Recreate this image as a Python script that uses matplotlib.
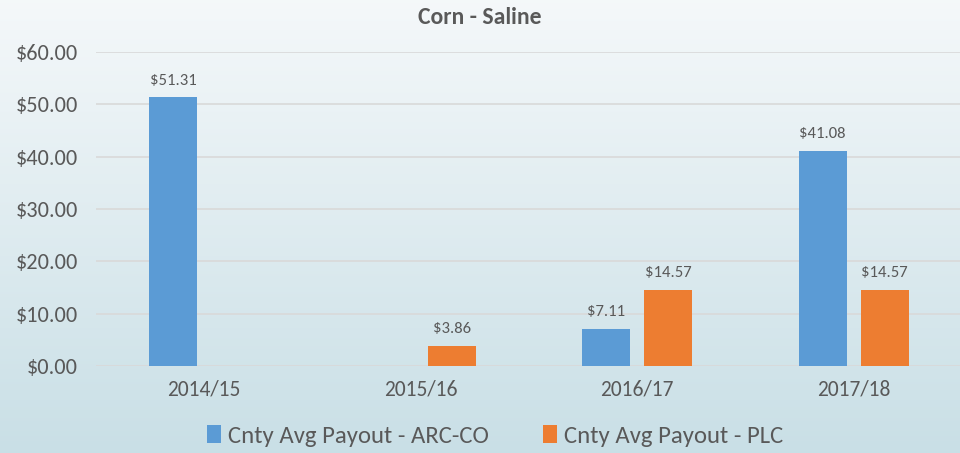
import matplotlib
matplotlib.use("Agg")
import matplotlib.pyplot as plt
import numpy as np
from matplotlib import font_manager

names = {f.name for f in font_manager.fontManager.ttflist}
fam = None
for cand in ["Carlito", "Liberation Sans Narrow", "Lato", "Open Sans", "DejaVu Sans"]:
    if cand in names:
        fam = cand
        break
plt.rcParams['font.family'] = [fam, 'DejaVu Sans']

categories = ["2014/15", "2015/16", "2016/17", "2017/18"]
arc_co = [51.31, 0.0, 7.11, 41.08]
plc = [0.0, 3.86, 14.57, 14.57]
series_names = ["Cnty Avg Payout - ARC-CO", "Cnty Avg Payout - PLC"]
title = "Corn - Saline"
yticks = [0, 10, 20, 30, 40, 50, 60]

blue = "#5B9BD5"
orange = "#ED7D31"
txt = "#595959"

fig = plt.figure(figsize=(9.6, 4.53), dpi=100)

# gradient background
bg = fig.add_axes([0, 0, 1, 1], zorder=-10)
grad = np.linspace(0, 1, 256).reshape(-1, 1)
top = np.array([0.960, 0.973, 0.980])
bot = np.array([0.788, 0.875, 0.902])
img = top[None, None, :] * (1 - grad[:, :, None]) + bot[None, None, :] * grad[:, :, None]
bg.imshow(img, aspect='auto', extent=[0, 1, 0, 1], origin='upper')
bg.axis('off')

ax = fig.add_axes([0.1, 1 - 366 / 453, 0.902, (366 - 52) / 453])
ax.set_facecolor('none')
x = np.arange(len(categories))
w = 0.222
off = 0.143
b1 = ax.bar(x - off, arc_co, w, color=blue, label=series_names[0], zorder=3)
b2 = ax.bar(x + off, plc, w, color=orange, label=series_names[1], zorder=3)

for bars, vals in ((b1, arc_co), (b2, plc)):
    for r, v in zip(bars, vals):
        if v > 0:
            ax.annotate(f"${v:.2f}", (r.get_x() + r.get_width() / 2, v),
                        xytext=(0, 7), textcoords='offset points',
                        ha='center', va='bottom', fontsize=12, color=txt)

ax.set_xlim(-0.5, 3.5)
ax.set_ylim(0, 60)
ax.set_yticks(yticks)
ax.set_yticklabels([f"${v:.2f}" for v in yticks])
ax.set_xticks(x)
ax.set_xticklabels(categories)
ax.tick_params(axis='y', length=0, labelsize=16, labelcolor=txt, pad=13)
ax.tick_params(axis='x', length=0, labelsize=15.5, labelcolor=txt, pad=10)
ax.grid(axis='y', color='#d9d9d9', linewidth=1.2, zorder=0)
for s in ax.spines.values():
    s.set_visible(False)

fig.text(0.5, 1 - 17 / 453, title, ha='center', va='center', fontsize=17,
         fontweight='bold', color=txt)

fig.legend(handles=[b1, b2], labels=series_names, loc='center',
           bbox_to_anchor=(0.516, 1 - 436 / 453), ncol=2, frameon=False,
           fontsize=17.8, labelcolor=txt, handlelength=0.55, handleheight=0.7,
           handletextpad=0.3, columnspacing=2.2)

fig.savefig("out.png", dpi=100)
